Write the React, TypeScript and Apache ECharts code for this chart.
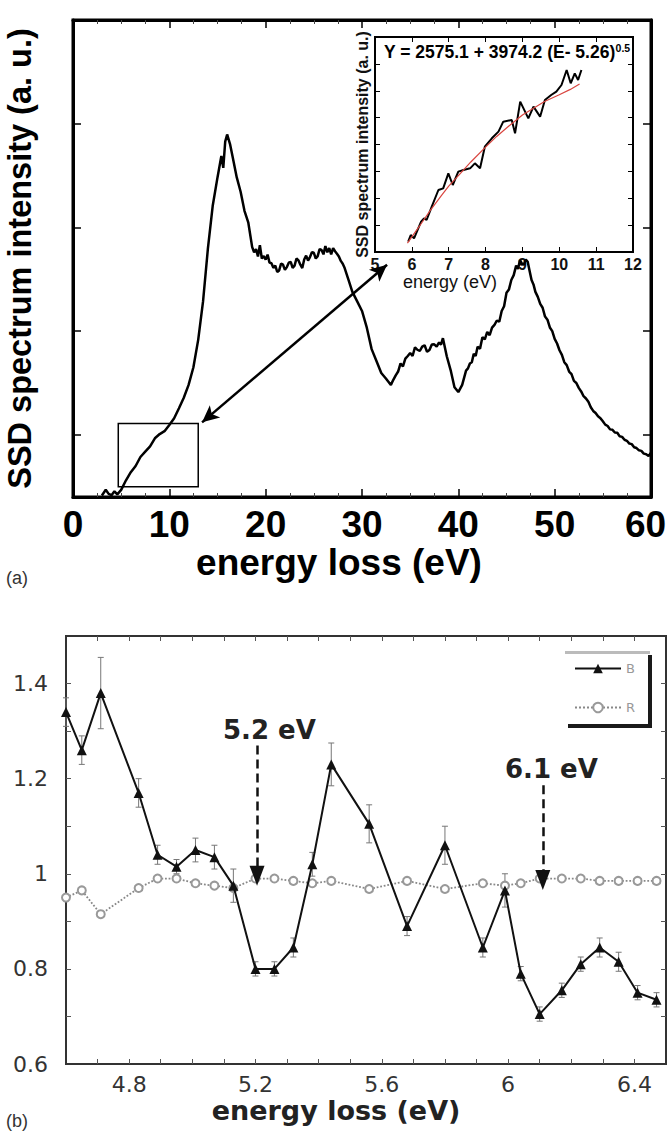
import React, { useEffect, useRef } from "react";
import * as echarts from "echarts";

// ---------- (a) main spectrum ----------
const mainEnergy = [
  3.0, 3.4, 3.7, 4.0, 4.3, 4.6, 5.0, 5.5, 6.0, 6.5, 7.0, 7.5, 8.0, 8.5, 9.0, 9.5, 10.0, 10.5, 11.0, 11.5, 12.0, 12.5, 13.0, 13.5, 14.0, 14.5, 15.0, 15.4, 15.6, 15.8, 16.0, 16.3, 16.6, 17.0, 17.4, 17.8, 18.2,
  18.6, 18.8, 19.0, 19.2, 19.4, 19.6, 19.8, 20.0, 20.2, 20.4, 20.6, 20.8, 21.0, 21.2, 21.4, 21.6, 21.8, 22.0, 22.2, 22.4, 22.6, 22.8, 23.0, 23.2, 23.4, 23.6, 23.8, 24.0, 24.2, 24.4, 24.6, 24.8, 25.0, 25.2, 25.4, 25.6, 25.8, 26.0, 26.2, 26.4, 26.6, 26.8, 27.0, 27.2, 27.4, 27.6, 27.8, 28.0, 28.2,
  28.6, 29.0, 29.5, 30.0, 30.5, 31.0, 31.5, 32.0, 32.5,
  33.0, 33.25, 33.5, 33.75, 34.0, 34.25, 34.5, 34.75, 35.0, 35.25, 35.5, 35.75, 36.0, 36.25, 36.5, 36.75, 37.0, 37.25, 37.5, 37.75, 38.0, 38.2, 38.4,
  38.8, 39.2, 39.6,
  40.0, 40.4, 40.8, 41.0, 41.2, 41.4, 41.6, 41.8, 42.0, 42.25, 42.5, 42.75, 43.0, 43.25, 43.5, 43.75, 44.0, 44.25, 44.5, 44.75, 45.0, 45.25, 45.5, 45.75, 46.0, 46.2, 46.4, 46.6, 46.8, 47.0, 47.2, 47.4, 47.6, 47.8, 48.0,
  48.25, 48.5, 48.75, 49.0, 49.25, 49.5, 49.75, 50.0, 50.25, 50.5, 50.75, 51.0, 51.25, 51.5, 51.75, 52.0, 52.25, 52.5, 52.75, 53.0, 53.25, 53.5, 53.75, 54.0, 54.25, 54.5, 54.75, 55.0, 55.25, 55.5, 55.75, 56.0, 56.25, 56.5, 56.75, 57.0, 57.25, 57.5, 57.75, 58.0, 58.25, 58.5, 58.75, 59.0, 59.25, 59.5, 59.75, 60.0,
];
const mainIntensity = [
  414, 470, 430, 418, 455, 425, 469, 561, 639, 699, 786, 837, 888, 966, 1007, 1035, 1095, 1159, 1256, 1357, 1481, 1651, 1918, 2286, 2792, 3206, 3482, 3689, 3574, 3827, 3896, 3804, 3666, 3482, 3344, 3160, 3045,
  2810, 2760, 2790, 2720, 2829, 2700, 2723, 2690, 2737, 2660, 2654, 2610, 2631, 2570, 2585, 2650, 2640, 2590, 2617, 2660, 2668, 2610, 2631, 2700, 2682, 2640, 2608, 2690, 2728, 2680, 2714, 2760, 2755, 2700, 2723, 2790, 2783, 2740, 2820, 2760, 2800, 2740, 2801, 2770, 2746, 2720, 2677, 2650, 2608,
  2493, 2378, 2286, 2194, 2033, 1826, 1711, 1596, 1541,
  1481, 1530, 1573, 1610, 1688, 1660, 1734, 1760, 1789, 1760, 1844, 1820, 1808, 1850, 1863, 1800, 1817, 1870, 1872, 1850, 1890, 1870, 1932,
  1757, 1624, 1458,
  1412, 1481, 1619, 1640, 1688, 1700, 1780, 1760, 1849, 1830, 1941, 1920, 1992, 1960, 2033, 2060, 2102, 2090, 2194, 2240, 2369, 2400, 2493, 2540, 2631, 2600, 2686, 2650, 2640, 2690, 2668, 2580, 2493, 2450, 2378,
  2330, 2262, 2225, 2140, 2110, 2035, 2000, 1925, 1880, 1815, 1770, 1700, 1672, 1610, 1585, 1520, 1500, 1452, 1418, 1372, 1350, 1318, 1265, 1230, 1210, 1178, 1160, 1130, 1098, 1085, 1052, 1048, 1022, 1020, 985, 980, 952, 942, 915, 910, 880, 872, 850, 845, 818, 812, 795, 828,
];
const mainYTicks = [1000, 2000, 3000, 4000];
const zoomBox = [[4.7, 500], [13.0, 1110]];
const zoomArrow = [[13.4, 1120], [32.6, 2640]];

// ---------- (a) inset ----------
const insetEnergy = [5.9, 5.97, 6.06, 6.25, 6.33, 6.4, 6.54, 6.72, 6.85, 6.99, 7.11, 7.26, 7.4, 7.58, 7.71, 7.85, 7.98, 8.17, 8.35, 8.48, 8.71, 8.8, 8.94, 9.16, 9.3, 9.48, 9.61, 9.78, 9.92, 10.06, 10.2, 10.31, 10.42, 10.51, 10.6];
const insetIntensity = [5384, 5633, 5509, 6129, 6253, 6191, 6687, 7307, 7369, 7927, 7493, 7989, 8051, 8113, 8299, 8113, 8919, 9230, 9478, 9850, 9912, 9416, 10594, 9974, 10408, 10036, 10656, 10842, 10966, 11214, 11772, 11276, 11648, 11400, 11772];
const fitEnergy = [5.88, 6.2, 6.5, 6.8, 7.0, 7.3, 7.6, 8.0, 8.3, 8.6, 9.0, 9.3, 9.6, 10.0, 10.3, 10.55];
const fitIntensity = [5330, 5950, 6550, 7100, 7450, 7900, 8350, 8900, 9300, 9650, 10100, 10350, 10600, 10850, 11050, 11250];
const fitEquation = "Y = 2575.1 + 3974.2 (E- 5.26)";
const fitExponent = "0.5";

// ---------- (b) ratio ----------
const bEnergy = [4.6, 4.65, 4.71, 4.83, 4.89, 4.95, 5.01, 5.07, 5.13, 5.2, 5.26, 5.32, 5.38, 5.44, 5.56, 5.68, 5.8, 5.92, 5.99, 6.04, 6.1, 6.17, 6.23, 6.29, 6.35, 6.41, 6.47];
const bRatio = [1.34, 1.26, 1.38, 1.17, 1.04, 1.015, 1.05, 1.035, 0.975, 0.8, 0.8, 0.845, 1.02, 1.23, 1.105, 0.89, 1.06, 0.845, 0.965, 0.79, 0.705, 0.755, 0.81, 0.845, 0.815, 0.75, 0.735];
const bError = [0.03, 0.03, 0.075, 0.03, 0.02, 0.015, 0.025, 0.025, 0.035, 0.015, 0.015, 0.02, 0.025, 0.045, 0.04, 0.02, 0.04, 0.02, 0.035, 0.015, 0.015, 0.015, 0.015, 0.02, 0.02, 0.015, 0.015];
const rRatio = [0.95, 0.965, 0.915, 0.97, 0.99, 0.99, 0.98, 0.975, 0.97, 0.99, 0.99, 0.985, 0.98, 0.985, 0.968, 0.985, 0.968, 0.98, 0.975, 0.98, 0.99, 0.99, 0.99, 0.985, 0.985, 0.985, 0.985];
const bXLabels = [4.8, 5.2, 5.6, 6, 6.4];
const bXTicks = [4.7, 4.8, 4.9, 5.0, 5.1, 5.2, 5.3, 5.4, 5.5, 5.6, 5.7, 5.8, 5.9, 6.0, 6.1, 6.2, 6.3, 6.4];
const bYLabels = [0.6, 0.8, 1, 1.2, 1.4];
const bYTicks = [0.7, 0.8, 0.9, 1.0, 1.1, 1.2, 1.3, 1.4];
const peakArrows = [
  { label: "5.2 eV", x: 5.205, from: 1.27, to: 0.996, labelX: 5.244, labelY: 1.303 },
  { label: "6.1 eV", x: 6.11, from: 1.186, to: 0.987, labelX: 6.137, labelY: 1.22 },
];

const FA = "'Liberation Sans', Arial, sans-serif";
const FB = "'DejaVu Sans', 'Liberation Sans', sans-serif";

function buildOption(): any {
  const mainData = mainEnergy.map((x, i) => [x, mainIntensity[i]]);
  const insetData = insetEnergy.map((x, i) => [x, insetIntensity[i]]);
  const fitData = fitEnergy.map((x, i) => [x, fitIntensity[i]]);
  const bData = bEnergy.map((x, i) => [x, bRatio[i]]);
  const rData = bEnergy.map((x, i) => [x, rRatio[i]]);
  const errData = bEnergy.map((x, i) => [x, bRatio[i] - bError[i], bRatio[i] + bError[i]]);

  const lineA = { show: true, onZero: false, lineStyle: { color: "#000", width: 3 } };
  const tickA = { show: true, inside: true, length: 8, lineStyle: { color: "#000", width: 1.5 } };
  const lineInset = { show: true, onZero: false, lineStyle: { color: "#000", width: 2 } };
  const tickInset = { show: true, inside: true, length: 5, lineStyle: { color: "#000", width: 1 } };
  const lineB = { show: true, onZero: false, lineStyle: { color: "#333", width: 2 } };
  const tickB = { show: true, inside: true, length: 5, lineStyle: { color: "#555", width: 1 } };
  const minorA = { show: true, splitNumber: 4, length: 4, lineStyle: { color: "#444", width: 1 } };
  const bigLabel = { fontFamily: FA, fontWeight: "bold", fontSize: 37, color: "#000" };

  return {
    animation: false,
    backgroundColor: "#fff",
    grid: [
      { left: 73, top: 20, width: 578, height: 477, outerBoundsMode: "none", containLabel: false, show: true, borderColor: "#000", borderWidth: 3, backgroundColor: "rgba(0,0,0,0)" },
      { left: 375, top: 37, width: 258, height: 215, outerBoundsMode: "none", containLabel: false, show: true, backgroundColor: "#fff", borderColor: "#000", borderWidth: 2 },
      { left: 66, top: 636, width: 600, height: 428, outerBoundsMode: "none", containLabel: false, show: true, borderColor: "#333", borderWidth: 2, backgroundColor: "rgba(0,0,0,0)" },
    ],
    xAxis: [
      {
        gridIndex: 0, type: "value", min: 0, max: 60, interval: 10, position: "bottom",
        axisLine: lineA, axisTick: tickA, minorTick: minorA,
        splitLine: { show: false },
        axisLabel: {
          ...bigLabel, margin: 9,
          formatter: (v: number) => (v === 60 ? `{e|${v}}` : `${v}`),
          rich: { e: { ...bigLabel, padding: [0, 11, 0, 0] } },
        },
        name: "energy loss (eV)", nameLocation: "middle", nameGap: 46,
        nameTextStyle: { ...bigLabel, padding: [0, 46, 0, 0] },
      },
      {
        gridIndex: 0, type: "value", min: 0, max: 60, interval: 10, position: "top",
        axisLine: lineA, axisTick: tickA, minorTick: minorA,
        splitLine: { show: false }, axisLabel: { show: false },
      },
      {
        gridIndex: 1, type: "value", min: 5, max: 12, interval: 1, position: "bottom",
        axisLine: lineInset, axisTick: tickInset,
        splitLine: { show: false },
        axisLabel: { fontFamily: FA, fontWeight: "bold", fontSize: 16, color: "#111", margin: 4 },
        name: "energy (eV)", nameLocation: "middle", nameGap: 17,
        nameTextStyle: { fontFamily: FA, fontSize: 18, color: "#111", padding: [0, 108, 0, 0] },
      },
      {
        gridIndex: 1, type: "value", min: 5, max: 12, interval: 1, position: "top",
        axisLine: lineInset, axisTick: tickInset,
        splitLine: { show: false }, axisLabel: { show: false },
      },
      {
        gridIndex: 2, type: "value", min: 4.6, max: 6.5, position: "bottom",
        axisLine: lineB,
        axisTick: { ...tickB, customValues: bXTicks },
        splitLine: { show: false },
        axisLabel: { customValues: bXLabels, fontFamily: FB, fontSize: 22, color: "#333", margin: 9 },
        name: "energy loss (eV)", nameLocation: "middle", nameGap: 33,
        nameTextStyle: { fontFamily: FB, fontWeight: "bold", fontSize: 27, color: "#222", padding: [0, 60, 0, 0] },
      },
      {
        gridIndex: 2, type: "value", min: 4.6, max: 6.5, position: "top",
        axisLine: lineB,
        axisTick: { ...tickB, customValues: bXTicks },
        splitLine: { show: false }, axisLabel: { show: false },
      },
    ],
    yAxis: [
      {
        gridIndex: 0, type: "value", min: 400, max: 5000, position: "left",
        axisLine: lineA,
        axisTick: { ...tickA, customValues: mainYTicks },
        splitLine: { show: false }, axisLabel: { show: false },
        name: "SSD spectrum intensity (a. u.)", nameLocation: "middle", nameGap: 37,
        nameTextStyle: { fontFamily: FA, fontWeight: "bold", fontSize: 32.5, color: "#000" },
      },
      {
        gridIndex: 0, type: "value", min: 400, max: 5000, position: "right",
        axisLine: lineA,
        axisTick: { ...tickA, customValues: mainYTicks },
        splitLine: { show: false }, axisLabel: { show: false },
      },
      {
        gridIndex: 1, type: "value", min: 5000, max: 13000, interval: 1000, position: "left",
        axisLine: lineInset, axisTick: tickInset,
        splitLine: { show: false }, axisLabel: { show: false },
        name: "SSD spectrum intensity (a. u.)", nameLocation: "middle", nameGap: 5,
        nameTextStyle: { fontFamily: FA, fontWeight: "bold", fontSize: 16, color: "#111" },
      },
      {
        gridIndex: 1, type: "value", min: 5000, max: 13000, interval: 1000, position: "right",
        axisLine: lineInset, axisTick: tickInset,
        splitLine: { show: false }, axisLabel: { show: false },
      },
      {
        gridIndex: 2, type: "value", min: 0.6, max: 1.5, position: "left",
        axisLine: lineB,
        axisTick: { ...tickB, customValues: bYTicks },
        splitLine: { show: false },
        axisLabel: { customValues: bYLabels, fontFamily: FB, fontSize: 22, color: "#333", margin: 18 },
      },
      {
        gridIndex: 2, type: "value", min: 0.6, max: 1.5, position: "right",
        axisLine: lineB,
        axisTick: { ...tickB, customValues: bYTicks },
        splitLine: { show: false }, axisLabel: { show: false },
      },
    ],
    legend: {
      data: ["B", "R"],
      orient: "vertical",
      left: 574, top: 662,
      itemWidth: 46, itemHeight: 12, itemGap: 26, padding: 0,
      textStyle: { fontFamily: FB, fontSize: 13, color: "#999" },
      selectedMode: false,
    },
    graphic: [
      { type: "text", left: 6, top: 569, style: { text: "(a)", font: `18px ${FA}`, fill: "#333" } },
      { type: "text", left: 6, top: 1112, style: { text: "(b)", font: `18px ${FA}`, fill: "#333" } },
      {
        type: "text", left: 384, top: 42, z: 10,
        style: {
          text: `{m|${fitEquation}}{s|${fitExponent}}`,
          rich: {
            m: { fontFamily: FA, fontWeight: "bold", fontSize: 17.5, fill: "#000", lineHeight: 20 },
            s: { fontFamily: FA, fontWeight: "bold", fontSize: 10.5, fill: "#000", verticalAlign: "top", lineHeight: 20 },
          },
        },
      },
      { type: "rect", shape: { x: 568, y: 655, width: 84, height: 73 }, style: { fill: "#1a1a1a" }, z: 1 },
      { type: "rect", shape: { x: 565, y: 652, width: 83, height: 72 }, style: { fill: "#fff" }, z: 2 },
      { type: "line", shape: { x1: 565, y1: 652.5, x2: 650, y2: 652.5 }, style: { stroke: "#bbb", lineWidth: 3 }, z: 2 },
    ],
    series: [
      {
        name: "spectrum", type: "line", xAxisIndex: 0, yAxisIndex: 0, data: mainData,
        showSymbol: false, lineStyle: { color: "#000", width: 2.5 }, itemStyle: { color: "#000" },
        markArea: {
          silent: true,
          itemStyle: { color: "rgba(0,0,0,0)", borderColor: "#000", borderWidth: 1.5 },
          data: [[{ coord: zoomBox[0] }, { coord: zoomBox[1] }]],
        },
        markLine: {
          silent: true, symbol: ["arrow", "arrow"], symbolSize: [12, 17],
          lineStyle: { color: "#000", width: 2.5, type: "solid" }, label: { show: false },
          data: [[{ coord: zoomArrow[0] }, { coord: zoomArrow[1] }]],
        },
      },
      {
        name: "inset data", type: "line", xAxisIndex: 2, yAxisIndex: 2, data: insetData,
        showSymbol: false, lineStyle: { color: "#000", width: 2 }, z: 4,
      },
      {
        name: "fit", type: "line", xAxisIndex: 2, yAxisIndex: 2, data: fitData,
        showSymbol: false, lineStyle: { color: "#d9453f", width: 1.2 }, z: 5,
      },
      {
        name: "errors", type: "custom", xAxisIndex: 4, yAxisIndex: 4, data: errData, z: 1,
        encode: { x: 0, y: [1, 2] },
        renderItem: (params: any, api: any) => {
          const x = api.value(0);
          const lo = api.coord([x, api.value(1)]);
          const hi = api.coord([x, api.value(2)]);
          const w = 3;
          const style = { stroke: "#777", lineWidth: 1 };
          return {
            type: "group",
            children: [
              { type: "line", shape: { x1: hi[0], y1: hi[1], x2: lo[0], y2: lo[1] }, style },
              { type: "line", shape: { x1: hi[0] - w, y1: hi[1], x2: hi[0] + w, y2: hi[1] }, style },
              { type: "line", shape: { x1: lo[0] - w, y1: lo[1], x2: lo[0] + w, y2: lo[1] }, style },
            ],
          };
        },
      },
      {
        name: "R", type: "line", xAxisIndex: 4, yAxisIndex: 4, data: rData,
        symbol: "emptyCircle", symbolSize: 8,
        lineStyle: { color: "#888", width: 1.8, type: "dotted" },
        itemStyle: { color: "#999", borderColor: "#999", borderWidth: 1.3 }, z: 2,
      },
      {
        name: "B", type: "line", xAxisIndex: 4, yAxisIndex: 4, data: bData,
        symbol: "triangle", symbolSize: 10,
        lineStyle: { color: "#111", width: 2 }, itemStyle: { color: "#111" }, z: 3,
        markLine: {
          silent: true, symbol: ["none", "triangle"], symbolSize: [15, 20],
          lineStyle: { color: "#111", width: 2.5, type: [9, 5] }, label: { show: false },
          data: peakArrows.map((a) => [{ coord: [a.x, a.from] }, { coord: [a.x, a.to] }]),
        },
        markPoint: {
          silent: true, symbol: "rect", symbolSize: 1,
          itemStyle: { color: "rgba(0,0,0,0)" },
          label: {
            show: true, position: "inside", fontFamily: FB, fontWeight: "bold", fontSize: 26, color: "#222",
            formatter: (p: any) => p.name,
          },
          data: peakArrows.map((a) => ({ name: a.label, coord: [a.labelX, a.labelY] })),
        },
      },
    ],
  };
}

export default function App() {
  const ref = useRef<HTMLDivElement>(null);
  useEffect(() => {
    document.body.style.margin = "0";
    const chart = echarts.init(ref.current as HTMLDivElement, null, { renderer: "svg" });
    chart.setOption(buildOption());
    return () => chart.dispose();
  }, []);
  return <div ref={ref} style={{ width: 667, height: 1135 }} />;
}
